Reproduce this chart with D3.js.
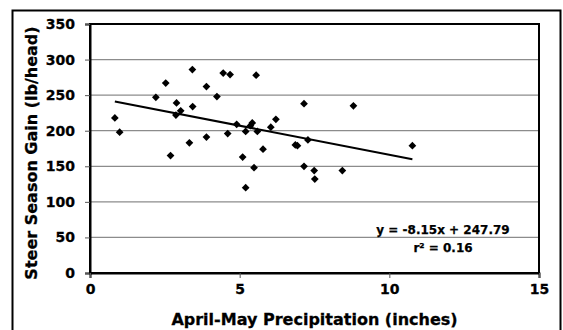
<!DOCTYPE html>
<html>
<head>
<meta charset="utf-8">
<script src="https://d3js.org/d3.v7.min.js"></script>
<style>
  body { margin: 0; background: #fff; }
  text { font-family: "DejaVu Sans", sans-serif; font-weight: bold; fill: #000; }
</style>
</head>
<body>
<div id="chart"></div>
<script>
// April-May precipitation (inches) vs steer season gain (lb/head)
var precip = [0.83, 0.99, 2.20, 2.53, 2.69, 2.89, 2.87, 3.03, 3.32, 3.42,
  3.43, 3.89, 3.89, 4.24, 4.45, 4.68, 4.60, 4.90, 5.10, 5.20,
  5.20, 5.36, 5.42, 5.48, 5.55, 5.59, 5.78, 6.04, 6.21, 6.86,
  6.93, 7.15, 7.28, 7.15, 7.49, 7.51, 8.43, 8.80, 10.77];
var gain = [218, 198, 247, 267, 165, 239, 222, 228, 183, 286,
  234, 262, 191, 248, 281, 279, 196, 209, 163, 199,
  120, 207, 211, 148, 278, 199, 174, 205, 216, 180,
  179, 238, 187, 150, 144, 132, 144, 235, 179];

// regression shown on the chart
var slope = -8.15;
var intercept = 247.79;
var eqLabels = ["y = -8.15x + 247.79", "r² = 0.16"];

var xTicks = [0, 5, 10, 15];
var yTicks = [0, 50, 100, 150, 200, 250, 300, 350];

function draw_chart(element) {

  //Width and height
  var w = 563;
  var h = 330;
  var plotL = 90, plotR = 539, plotT = 24, plotB = 273;

  var x = d3.scaleLinear().domain([0, 15]).range([plotL, plotR]);
  var y = d3.scaleLinear().domain([0, 350]).range([plotB, plotT]);

  var svg = d3.select(element)
    .append("svg")
    .attr("width", w)
    .attr("height", h);

  // outer chart border (runs off the bottom)
  svg.append("rect")
    .attr("x", 12.5)
    .attr("y", 10.5)
    .attr("width", 548)
    .attr("height", 340)
    .attr("fill", "#fff")
    .attr("stroke", "#000")
    .attr("stroke-width", 2);

  // gridlines
  svg.append("g")
    .selectAll("line")
    .data(yTicks.filter(function(d) { return d > 0 && d < 350; }))
    .enter()
    .append("line")
    .attr("x1", plotL)
    .attr("x2", plotR)
    .attr("y1", function(d) { return y(d); })
    .attr("y2", function(d) { return y(d); })
    .attr("stroke", "#8c8c8c")
    .attr("stroke-width", 1.3);

  // plot area border
  svg.append("rect")
    .attr("x", plotL)
    .attr("y", plotT)
    .attr("width", plotR - plotL)
    .attr("height", plotB - plotT)
    .attr("fill", "none")
    .attr("stroke", "#000")
    .attr("stroke-width", 2);

  // axes
  var yAxis = svg.append("g")
    .attr("transform", "translate(" + plotL + ",0)")
    .call(d3.axisLeft(y).tickValues(yTicks).tickSize(5).tickPadding(10));

  var xAxis = svg.append("g")
    .attr("transform", "translate(0," + plotB + ")")
    .call(d3.axisBottom(x).tickValues(xTicks).tickSize(5).tickPadding(6));

  [xAxis, yAxis].forEach(function(a) {
    a.select(".domain").attr("stroke", "#000").attr("stroke-width", 2);
    a.selectAll(".tick line").attr("stroke", "#555").attr("stroke-width", 1);
    a.selectAll(".tick text")
      .attr("font-family", "DejaVu Sans")
      .attr("font-weight", "bold")
      .attr("font-size", 14)
      .attr("fill", "#000")
      .attr("stroke", "#000")
      .attr("stroke-width", 0.3);
  });

  // trend line across the data range
  var xr = d3.extent(precip);
  svg.append("line")
    .attr("x1", x(xr[0]))
    .attr("x2", x(xr[1]))
    .attr("y1", y(slope * xr[0] + intercept))
    .attr("y2", y(slope * xr[1] + intercept))
    .attr("stroke", "#000")
    .attr("stroke-width", 2);

  // diamond markers
  svg.append("g")
    .selectAll("path")
    .data(precip)
    .enter()
    .append("path")
    .attr("d", d3.symbol().type(d3.symbolSquare).size(30))
    .attr("transform", function(d, i) {
      return "translate(" + x(d) + "," + y(gain[i]) + ") rotate(45)";
    })
    .attr("fill", "#000");

  // equation
  svg.selectAll("text.eq")
    .data(eqLabels)
    .enter()
    .append("text")
    .attr("class", "eq")
    .attr("x", 443)
    .attr("y", function(d, i) { return 234 + i * 17.5; })
    .attr("text-anchor", "middle")
    .attr("font-size", 12)
    .attr("stroke", "#000")
    .attr("stroke-width", 0.25)
    .text(function(d) { return d; });

  // axis titles
  svg.append("text")
    .attr("x", (plotL + plotR) / 2)
    .attr("y", 324.5)
    .attr("text-anchor", "middle")
    .attr("font-size", 16)
    .attr("stroke", "#000")
    .attr("stroke-width", 0.3)
    .text("April-May Precipitation (inches)");

  svg.append("text")
    .attr("transform", "translate(37,153) rotate(-90)")
    .attr("text-anchor", "middle")
    .attr("font-size", 16)
    .attr("stroke", "#000")
    .attr("stroke-width", 0.3)
    .text("Steer Season Gain (lb/head)");
}

draw_chart("#chart");
</script>
</body>
</html>
